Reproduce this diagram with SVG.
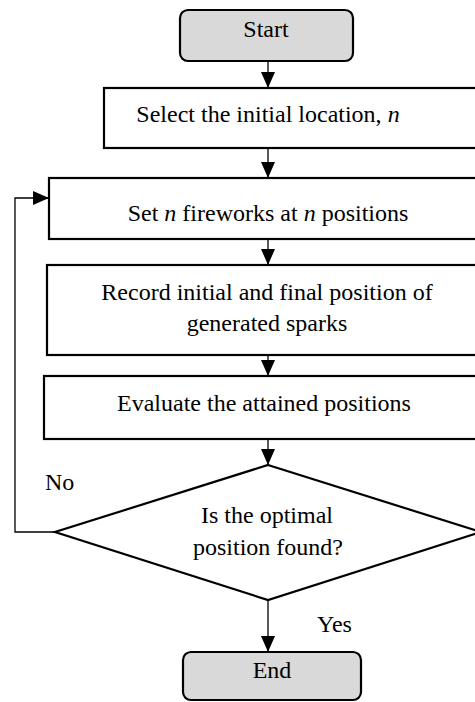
<svg xmlns="http://www.w3.org/2000/svg" width="475" height="702" viewBox="0 0 475 702">
<style>
.box{fill:#ffffff;stroke:#000;stroke-width:2.2}
.term{fill:#d9d9d9;stroke:#000;stroke-width:2.2}
.t{font-family:"Liberation Serif","Times New Roman",serif;font-size:24px;fill:#000;text-anchor:middle}
.l{font-family:"Liberation Serif","Times New Roman",serif;font-size:24px;fill:#000}
.c{fill:none;stroke:#000;stroke-width:1.3}
</style>
<defs>
<marker id="ah" markerUnits="userSpaceOnUse" markerWidth="16" markerHeight="14" refX="16" refY="7" orient="auto">
<path d="M0,0 L16,7 L0,14 Z" fill="#000"/>
</marker>
</defs>
<rect width="475" height="702" fill="#fff"/>
<g id="connectors">
<line class="c" x1="268" y1="61" x2="268" y2="88" marker-end="url(#ah)"/>
<line class="c" x1="268" y1="148" x2="268" y2="178" marker-end="url(#ah)"/>
<line class="c" x1="268" y1="239" x2="268" y2="265" marker-end="url(#ah)"/>
<line class="c" x1="268" y1="355" x2="268" y2="376" marker-end="url(#ah)"/>
<line class="c" x1="268" y1="439" x2="268" y2="465" marker-end="url(#ah)"/>
<line class="c" x1="268" y1="600" x2="268" y2="652" marker-end="url(#ah)"/>
<polyline class="c" points="55,532 15,532 15,198 49,198" marker-end="url(#ah)"/>
<text class="l" x="45" y="490">No</text>
<text class="l" x="317" y="632">Yes</text>
</g>
<g id="start">
<rect class="term" x="180" y="10" width="173" height="51" rx="8"/>
<text class="t" x="266" y="37">Start</text>
</g>
<g id="select">
<rect class="box" x="104" y="88" width="390" height="60"/>
<text class="t" x="268" y="122">Select the initial location, <tspan font-style="italic">n</tspan></text>
</g>
<g id="set">
<rect class="box" x="49" y="178" width="445" height="61"/>
<text class="t" x="268" y="221">Set <tspan font-style="italic">n</tspan> fireworks at <tspan font-style="italic">n</tspan> positions</text>
</g>
<g id="record">
<rect class="box" x="47" y="265" width="447" height="90"/>
<text class="t" x="267" y="300">Record initial and final position of</text>
<text class="t" x="267" y="331">generated sparks</text>
</g>
<g id="evaluate">
<rect class="box" x="44" y="376" width="450" height="63"/>
<text class="t" x="264" y="411">Evaluate the attained positions</text>
</g>
<g id="decision">
<polygon class="box" points="268,465 481,532 268,600 55,532"/>
<text class="t" x="267" y="523">Is the optimal</text>
<text class="t" x="268" y="555">position found?</text>
</g>
<g id="end">
<rect class="term" x="183" y="652" width="178" height="48" rx="8"/>
<text class="t" x="272" y="678">End</text>
</g>
</svg>
